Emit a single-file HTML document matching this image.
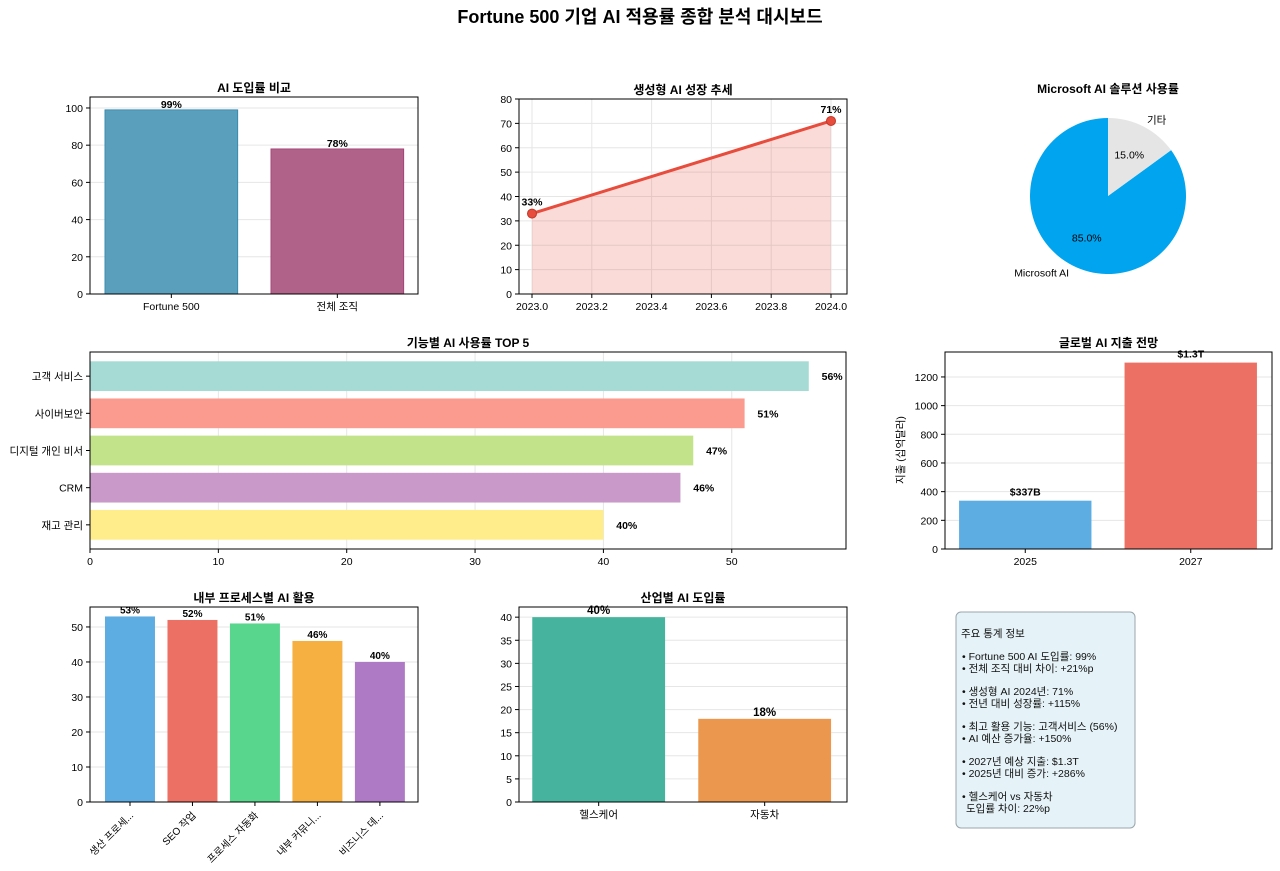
<!DOCTYPE html>
<html><head><meta charset="utf-8">
<style>
body{margin:0;background:#fff;}
svg{display:block;font-family:"Liberation Sans","Noto Sans CJK KR",sans-serif;}
</style></head>
<body>
<svg id="c" width="1280" height="871" xmlns="http://www.w3.org/2000/svg">
<text x="640" y="23" text-anchor="middle" font-size="18" font-weight="bold">Fortune 500 기업 AI 적용률 종합 분석 대시보드</text>
<g id="stats">
<rect x="956" y="612" width="179" height="216" rx="5" fill="#e5f2f7" stroke="#9aa5ab"/>
<text font-size="10.5" fill="#111">
<tspan x="961" y="637">주요 통계 정보</tspan>
<tspan x="962" y="660">• Fortune 500 AI 도입률: 99%</tspan>
<tspan x="962" y="672">• 전체 조직 대비 차이: +21%p</tspan>
<tspan x="962" y="695">• 생성형 AI 2024년: 71%</tspan>
<tspan x="962" y="707">• 전년 대비 성장률: +115%</tspan>
<tspan x="962" y="730">• 최고 활용 기능: 고객서비스 (56%)</tspan>
<tspan x="962" y="742">• AI 예산 증가율: +150%</tspan>
<tspan x="962" y="765">• 2027년 예상 지출: $1.3T</tspan>
<tspan x="962" y="777">• 2025년 대비 증가: +286%</tspan>
<tspan x="962" y="800">• 헬스케어 vs 자동차</tspan>
<tspan x="966" y="812">도입률 차이: 22%p</tspan>
</text>
</g>
</svg>
<script>
// Chart 1
const adoptCats=["Fortune 500","전체 조직"];
const adoptVals=[99,78];
const adoptTicks=[0,20,40,60,80,100];
// Chart 2
const genYears=[2023.0,2024.0];
const genVals=[33,71];
const genYTicks=[0,10,20,30,40,50,60,70,80];
const genXTicks=["2023.0","2023.2","2023.4","2023.6","2023.8","2024.0"];
// Chart 3
const pieLabels=["Microsoft AI","기타"];
const pieVals=[85,15];
// Chart 4
const funcCats=["고객 서비스","사이버보안","디지털 개인 비서","CRM","재고 관리"];
const funcVals=[56,51,47,46,40];
const funcTicks=[0,10,20,30,40,50];
// Chart 5
const spendCats=["2025","2027"];
const spendVals=[337,1300];
const spendLabels=["$337B","$1.3T"];
const spendTicks=[0,200,400,600,800,1000,1200];
// Chart 6
const procCats=["생산 프로세...","SEO 작업","프로세스 자동화","내부 커뮤니...","비즈니스 데..."];
const procVals=[53,52,51,46,40];
const procTicks=[0,10,20,30,40,50];
// Chart 7
const indCats=["헬스케어","자동차"];
const indVals=[40,18];
const indTicks=[0,5,10,15,20,25,30,35,40];

const svg=document.getElementById('c');
const NS="http://www.w3.org/2000/svg";
function el(tag,attrs,parent){const e=document.createElementNS(NS,tag);for(const k in attrs)e.setAttribute(k,attrs[k]);(parent||svg).appendChild(e);return e;}
function txt(x,y,s,attrs,parent){const t=el('text',Object.assign({x:x,y:y,'font-size':11},attrs||{}),parent);t.textContent=s;return t;}
function lin(d0,d1,r0,r1){return v=>r0+(v-d0)/(d1-d0)*(r1-r0);}

function frame(g,x0,y0,x1,y1,title){
  el('rect',{x:x0,y:y0,width:x1-x0,height:y1-y0,fill:'none',stroke:'#000','stroke-width':1},g);
  const t=txt((x0+x1)/2,y0-5,title,{'text-anchor':'middle','font-weight':'bold','font-size':12},g);
  
  
}
function yTicks(g,ticks,y,x0,x1,grid,labels){
  ticks.forEach((v,i)=>{const yy=y(v);
    if(grid){el('line',{x1:x0,x2:x1,y1:yy,y2:yy,stroke:'#e6e6e6'},g);}
    el('line',{x1:x0-4,x2:x0,y1:yy,y2:yy,stroke:'#000'},g);
    const t=txt(x0-7,yy+4,labels?labels[i]:String(v),{'text-anchor':'end','font-size':10.5},g);
    
    
  });
}
function group(name){const g=el('g',{});return g;}

// ---- Chart 1
(function(){const g=group('adoption-chart');
  const X0=90,X1=418,Y0=97,Y1=294;const y=lin(0,105.9,Y1,Y0);
  yTicks(g,adoptTicks,y,X0,X1,true);
  const cols=['#5a9fbc','#b06289'],strokes=['#2E86AB','#A23B72'];
  const step=(X1-X0)/1.976, bw=step*0.8;
  adoptCats.forEach((c,i)=>{const cx=X0+step*(0.49+i);
    const b=el('rect',{x:cx-bw/2,y:y(adoptVals[i]),width:bw,height:Y1-y(adoptVals[i]),fill:cols[i],stroke:strokes[i],'stroke-width':0.8},g);
    
    
    txt(cx,y(adoptVals[i])-2,adoptVals[i]+'%',{'text-anchor':'middle','font-weight':'bold','font-size':10.5},g);
    el('line',{x1:cx,x2:cx,y1:Y1,y2:Y1+4,stroke:'#000'},g);
    const l=txt(cx,Y1+16,c,{'text-anchor':'middle','font-size':10.5},g);
    
    
  });
  frame(g,X0,Y0,X1,Y1,'AI 도입률 비교');
})();

// ---- Chart 2
(function(){const g=group('genai-growth-chart');
  const X0=519,X1=847,Y0=99,Y1=294;const y=lin(0,80,Y1,Y0);const x=lin(2023,2024,532,831);
  genXTicks.forEach(s=>{const xx=x(parseFloat(s));el('line',{x1:xx,x2:xx,y1:Y0,y2:Y1,stroke:'#e6e6e6'},g);});
  yTicks(g,genYTicks,y,X0,X1,true);
  genXTicks.forEach(s=>{const xx=x(parseFloat(s));el('line',{x1:xx,x2:xx,y1:Y1,y2:Y1+4,stroke:'#000'},g);
    const l=txt(xx,Y1+16,s,{'text-anchor':'middle','font-size':10.5},g);
    
    });
  let d='M'+x(genYears[0])+','+Y1;genYears.forEach((v,i)=>d+=' L'+x(v)+','+y(genVals[i]));d+=' L'+x(genYears[genYears.length-1])+','+Y1+' Z';
  const a=el('path',{d:d,fill:'#e74c3c','fill-opacity':0.2},g);
  
  
  const pts=genYears.map((v,i)=>x(v)+','+y(genVals[i])).join(' ');
  const pl=el('polyline',{points:pts,fill:'none',stroke:'#e74c3c','stroke-width':3},g);
  
  
  genYears.forEach((v,i)=>{const c=el('circle',{cx:x(v),cy:y(genVals[i]),r:4.5,fill:'#e74c3c',stroke:'#c0392b'},g);
    
    
    txt(x(v),y(genVals[i])-8,genVals[i]+'%',{'text-anchor':'middle','font-weight':'bold','font-size':10.5},g);});
  frame(g,X0,Y0,X1,Y1,'생성형 AI 성장 추세');
})();

// ---- Chart 3
(function(){const g=group('ms-pie-chart');
  const cx=1108,cy=196,r=78;const tot=pieVals.reduce((a,b)=>a+b,0);
  const cols=['#00a4ef','#e5e5e5'];let ang=90;
  pieVals.forEach((v,i)=>{const sw=v/tot*360;const a0=ang*Math.PI/180,a1=(ang+sw)*Math.PI/180;
    const x0=cx+r*Math.cos(a0),y0=cy-r*Math.sin(a0),x1=cx+r*Math.cos(a1),y1=cy-r*Math.sin(a1);
    const p=el('path',{d:`M${cx},${cy} L${x0},${y0} A${r},${r} 0 ${sw>180?1:0} 0 ${x1},${y1} Z`,fill:cols[i]},g);
    
    
    const mid=(ang+sw/2)*Math.PI/180;
    txt(cx+r*0.6*Math.cos(mid),cy-r*0.6*Math.sin(mid)+4,(v/tot*100).toFixed(1)+'%',{'text-anchor':'middle','font-size':10.5},g);
    const lx=cx+r*1.1*Math.cos(mid),ly=cy-r*1.1*Math.sin(mid);
    txt(lx,ly+4,pieLabels[i],{'text-anchor':Math.cos(mid)<0?'end':'start','font-size':10.5},g);
    ang+=sw;});
  const t=txt(1108,93,'Microsoft AI 솔루션 사용률',{'text-anchor':'middle','font-weight':'bold','font-size':12},g);
  
  
})();

// ---- Chart 4
(function(){const g=group('function-usage-chart');
  const X0=90,X1=846,Y0=352,Y1=549;const x=lin(0,58.9,X0,X1);
  funcTicks.forEach(v=>{const xx=x(v);el('line',{x1:xx,x2:xx,y1:Y0,y2:Y1,stroke:'#e6e6e6'},g);
    el('line',{x1:xx,x2:xx,y1:Y1,y2:Y1+4,stroke:'#000'},g);
    txt(xx,Y1+16,String(v),{'text-anchor':'middle','font-size':10.5},g);});
  const cols=['#a5dbd4','#fb9a8e','#c3e38a','#c99ac9','#ffed8c'];
  const step=(Y1-Y0)/5.3;
  funcCats.forEach((c,i)=>{const cy=Y0+step*(0.65+i);const h=step*0.8;
    const b=el('rect',{x:X0,y:cy-h/2,width:x(funcVals[i])-X0,height:h,fill:cols[i]},g);
    
    
    txt(x(funcVals[i]+1),cy+4,funcVals[i]+'%',{'font-weight':'bold','font-size':10.5},g);
    el('line',{x1:X0-4,x2:X0,y1:cy,y2:cy,stroke:'#000'},g);
    txt(X0-7,cy+4,c,{'text-anchor':'end','font-size':10.5},g);});
  frame(g,X0,Y0,X1,Y1,'기능별 AI 사용률 TOP 5');
})();

// ---- Chart 5
(function(){const g=group('spending-chart');
  const X0=945,X1=1272,Y0=352,Y1=549;const y=lin(0,1374,Y1,Y0);
  yTicks(g,spendTicks,y,X0,X1,true);
  const cols=['#5dade2','#ec7063'];const step=(X1-X0)/1.976,bw=step*0.8;
  spendCats.forEach((c,i)=>{const cx=X0+step*(0.485+i);
    const b=el('rect',{x:cx-bw/2,y:y(spendVals[i]),width:bw,height:Y1-y(spendVals[i]),fill:cols[i]},g);
    
    
    txt(cx,y(spendVals[i])-5,spendLabels[i],{'text-anchor':'middle','font-weight':'bold','font-size':10.5},g);
    el('line',{x1:cx,x2:cx,y1:Y1,y2:Y1+4,stroke:'#000'},g);
    txt(cx,Y1+16,c,{'text-anchor':'middle','font-size':10.5},g);});
  const yl=txt(0,0,'지출 (십억달러)',{'text-anchor':'middle','font-size':10.5,transform:'translate(904,450) rotate(-90)'},g);
  
  
  frame(g,X0,Y0,X1,Y1,'글로벌 AI 지출 전망');
})();

// ---- Chart 6
(function(){const g=group('process-chart');
  const X0=90,X1=418,Y0=607,Y1=802;const y=lin(0,55.7,Y1,Y0);
  yTicks(g,procTicks,y,X0,X1,true);
  const cols=['#5dade2','#ec7063','#58d68d','#f5b041','#af7ac5'];
  const step=(X1-X0)/5.25,bw=step*0.8;
  procCats.forEach((c,i)=>{const cx=X0+step*(0.64+i);
    const b=el('rect',{x:cx-bw/2,y:y(procVals[i]),width:bw,height:Y1-y(procVals[i]),fill:cols[i]},g);
    
    
    txt(cx,y(procVals[i])-3,procVals[i]+'%',{'text-anchor':'middle','font-weight':'bold','font-size':10},g);
    el('line',{x1:cx,x2:cx,y1:Y1,y2:Y1+4,stroke:'#000'},g);
    txt(0,0,c,{'text-anchor':'end','font-size':10,transform:`translate(${cx+4},${Y1+14}) rotate(-45)`},g);});
  frame(g,X0,Y0,X1,Y1,'내부 프로세스별 AI 활용');
})();

// ---- Chart 7
(function(){const g=group('industry-chart');
  const X0=519,X1=847,Y0=607,Y1=802;const y=lin(0,42.2,Y1,Y0);
  yTicks(g,indTicks,y,X0,X1,true);
  const cols=['#45b39d','#eb984e'];const step=(X1-X0)/1.976,bw=step*0.8;
  indCats.forEach((c,i)=>{const cx=X0+step*(0.48+i);
    const b=el('rect',{x:cx-bw/2,y:y(indVals[i]),width:bw,height:Y1-y(indVals[i]),fill:cols[i]},g);
    
    
    txt(cx,y(indVals[i])-3,indVals[i]+'%',{'text-anchor':'middle','font-weight':'bold','font-size':11.5},g);
    el('line',{x1:cx,x2:cx,y1:Y1,y2:Y1+4,stroke:'#000'},g);
    txt(cx,Y1+16,c,{'text-anchor':'middle','font-size':10.5},g);});
  frame(g,X0,Y0,X1,Y1,'산업별 AI 도입률');
})();
svg.appendChild(document.getElementById('stats'));
</script>
</body></html>
